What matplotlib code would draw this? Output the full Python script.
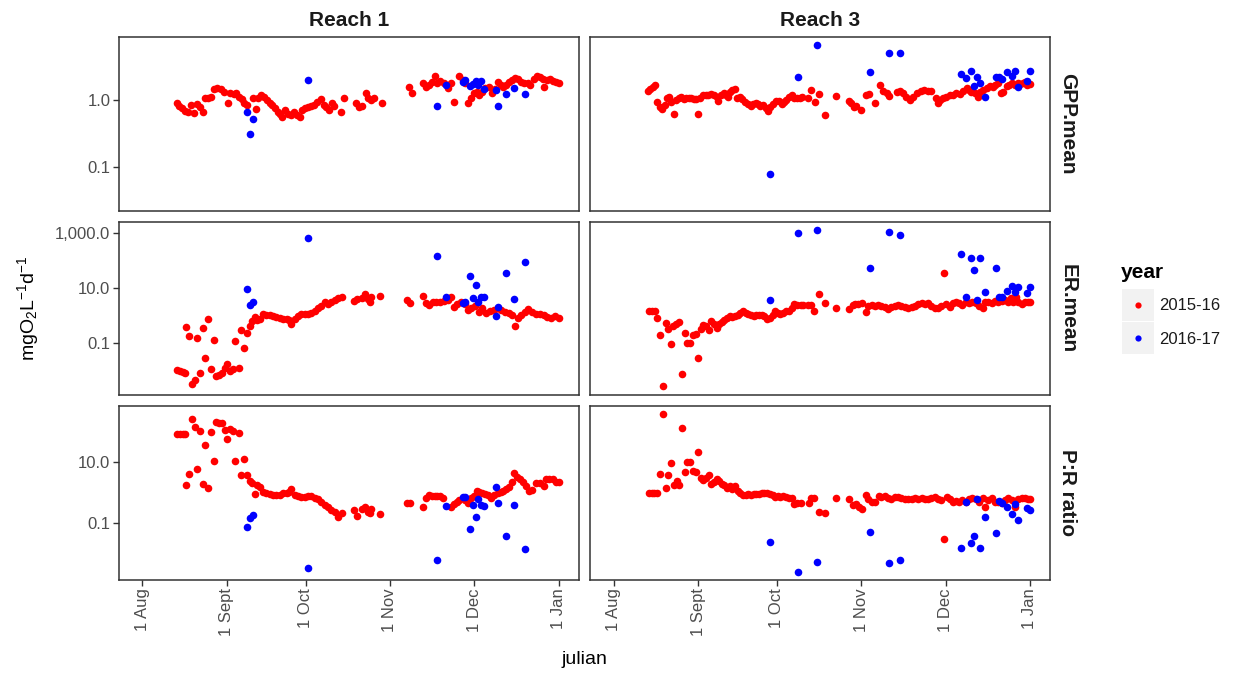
import matplotlib
matplotlib.use("Agg")
import matplotlib.pyplot as plt
from matplotlib.ticker import FixedLocator, NullLocator
from matplotlib.patches import Rectangle

plt.rcParams['font.family'] = ['Liberation Sans', 'DejaVu Sans']
plt.rcParams['mathtext.fontset'] = 'custom'
plt.rcParams['mathtext.rm'] = 'Liberation Sans'
plt.rcParams['mathtext.default'] = 'regular'

# ---------------- data (julian day, value) ----------------
# Reach 1, 2015-16
r1_gpp_day_15 = [225.8, 226.5, 227.5, 228.5, 229.6, 231.0, 232.1, 233.1, 234.1, 235.2,
                 236.2, 237.3, 238.3, 239.4, 240.6, 242.0, 243.1, 244.3, 245.1, 246.5,
                 247.6, 248.6, 249.6, 250.4, 251.4, 253.5, 254.6, 255.6, 256.7, 257.7,
                 258.9, 259.9, 260.8, 261.7, 262.7, 263.7, 264.5, 265.5, 266.5, 267.6,
                 268.7, 269.9, 270.9, 271.8, 272.8, 274.0, 274.9, 276.0, 277.2, 278.6,
                 279.6, 280.6, 281.7, 282.6, 283.4, 286.0, 287.1, 291.6, 292.7, 293.7,
                 295.1, 295.8, 296.9, 298.3, 301.0, 311.0, 312.2, 316.2, 317.2, 318.3,
                 319.4, 320.4, 321.4, 322.5, 323.9, 325.3, 326.4, 327.6, 329.5, 330.7,
                 331.7, 332.6, 333.7, 334.9, 335.9, 336.9, 338.0, 339.1, 340.5, 341.7,
                 342.5, 343.6, 344.7, 345.7, 346.7, 347.8, 348.9, 349.9, 350.9, 352.1,
                 353.2, 354.6, 355.6, 357.0, 358.0, 359.1, 360.2, 360.8, 361.6, 363.0,
                 364.0, 365.0, 366.1]
r1_gpp_15 = [0.91, 0.81, 0.75, 0.69, 0.65, 0.84, 0.63, 0.87, 0.78, 0.67,
             1.06, 1.06, 1.12, 1.45, 1.5, 1.45, 1.33, 0.91, 1.26, 1.23,
             1.26, 1.12, 1.02, 0.91, 0.84, 1.06, 0.73, 1.06, 1.19, 1.12,
             1.0, 0.91, 0.84, 0.75, 0.67, 0.62, 0.55, 0.71, 0.62, 0.6,
             0.67, 0.6, 0.56, 0.71, 0.75, 0.78, 0.81, 0.84, 0.94, 1.02,
             0.84, 0.78, 0.71, 0.89, 0.81, 0.65, 1.06, 0.89, 0.78, 0.81,
             1.26, 1.06, 1.0, 1.06, 0.89, 1.55, 1.26, 1.78, 1.55, 1.68,
             1.88, 2.3, 1.82, 1.95, 1.78, 1.5, 1.78, 0.94, 2.3, 2.0,
             1.78, 0.89, 1.06, 1.26, 1.33, 1.19, 1.33, 1.5, 1.55, 1.29,
             1.45, 1.88, 1.68, 1.55, 1.68, 1.88, 2.0, 2.1, 2.05, 1.88,
             1.82, 1.78, 1.68, 2.05, 2.25, 2.2, 2.05, 1.55, 2.0, 2.05,
             1.95, 1.88, 1.82]

r1_er_day_15 = [225.8, 226.8, 227.9, 228.5, 229.2, 230.1, 231.2, 232.2, 233.2, 234.3,
                235.2, 236.1, 237.1, 238.2, 239.2, 240.2, 241.2, 242.2, 243.2, 244.2,
                245.2, 246.2, 247.2, 248.4, 249.1, 250.2, 251.3, 252.4, 253.3, 254.3,
                255.3, 256.2, 257.5, 258.6, 259.8, 261.0, 262.3, 263.5, 264.7, 266.0,
                266.9, 267.8, 269.0, 270.2, 271.4, 272.7, 273.9, 275.1, 276.4, 277.6,
                278.8, 280.0, 281.3, 282.5, 283.7, 285.0, 286.2, 290.7, 291.9, 293.8,
                295.0, 296.0, 296.8, 297.2, 300.5, 310.3, 311.4, 316.2, 317.2, 318.3,
                319.7, 321.1, 322.5, 323.9, 325.3, 326.4, 327.6, 328.8, 330.2, 331.7,
                332.6, 333.7, 335.2, 336.6, 338.0, 339.4, 340.8, 342.2, 343.6, 345.0,
                346.4, 347.8, 349.0, 349.9, 350.9, 352.1, 353.5, 354.9, 356.3, 357.7,
                359.1, 360.5, 361.9, 363.3, 364.7, 366.1]
r1_er_15 = [0.0103, 0.0093, 0.0085, 0.008, 0.36, 0.17, 0.003, 0.0042, 0.15, 0.0078,
            0.35, 0.028, 0.76, 0.011, 0.13, 0.0062, 0.0068, 0.008, 0.012, 0.016,
            0.0093, 0.011, 0.115, 0.012, 0.28, 0.066, 0.23, 0.41, 0.6, 0.87,
            0.66, 0.76, 1.12, 1.07, 1.0, 0.95, 0.9, 0.83, 0.76, 0.76,
            0.7, 0.5, 0.76, 0.92, 1.1, 1.1, 1.1, 1.26, 1.5, 1.86,
            2.2, 3.1, 2.7, 3.2, 3.5, 4.3, 4.8, 3.4, 4.1, 4.4,
            5.9, 4.1, 3.1, 4.7, 4.9, 3.6, 2.9, 5.2, 2.8, 2.4,
            3.0, 3.0, 3.2, 3.3, 3.5, 4.5, 2.0, 2.7, 3.0, 2.5,
            1.57, 1.8, 2.25, 1.35, 1.8, 1.17, 1.45, 1.57, 1.9, 1.57,
            1.35, 1.25, 1.0, 0.41, 0.78, 1.0, 1.35, 1.65, 1.35, 1.15,
            1.1, 1.0, 0.87, 0.78, 0.91, 0.83]

r1_pr_day_15 = [225.9, 226.8, 227.9, 228.5, 229.2, 230.1, 231.2, 232.2, 233.2, 234.3,
                235.2, 236.1, 237.1, 238.2, 239.2, 240.2, 241.2, 242.2, 243.2, 244.2,
                245.2, 246.2, 247.2, 248.4, 249.1, 250.2, 251.3, 252.4, 253.3, 254.3,
                255.3, 256.2, 257.5, 258.6, 259.8, 261.0, 262.3, 263.5, 264.7, 266.0,
                266.9, 267.8, 269.0, 270.2, 271.4, 272.7, 273.9, 275.1, 276.4, 277.6,
                278.8, 280.0, 281.3, 282.5, 283.7, 285.0, 286.2, 290.7, 291.9, 293.8,
                295.0, 296.0, 296.8, 297.2, 300.5, 310.3, 311.4, 316.2, 317.2, 318.3,
                319.4, 320.4, 321.4, 322.5, 323.6, 326.4, 327.6, 328.8, 329.5, 331.7,
                332.6, 333.7, 334.9, 336.0, 336.9, 338.0, 339.1, 340.1, 341.2, 342.2,
                343.6, 344.7, 345.7, 346.7, 347.8, 348.7, 349.7, 350.7, 351.8, 352.9,
                354.2, 355.3, 356.3, 357.7, 359.1, 360.5, 361.2, 362.6, 364.0, 365.0,
                366.1]
r1_pr_15 = [87, 87, 87, 87, 1.78, 4.0, 265, 148, 5.9, 107,
            1.96, 38, 1.37, 103, 10.7, 215, 205, 195, 117, 58,
            130, 107, 10.7, 91, 3.8, 13, 3.7, 2.4, 2.1, 0.9,
            1.72, 1.55, 1.04, 0.94, 0.9, 0.81, 0.81, 0.85, 0.94, 0.94,
            1.04, 1.26, 0.85, 0.77, 0.73, 0.73, 0.77, 0.77, 0.68, 0.6,
            0.49, 0.4, 0.32, 0.26, 0.22, 0.155, 0.215, 0.26, 0.166, 0.28,
            0.32, 0.23, 0.215, 0.28, 0.19, 0.44, 0.46, 0.34, 0.64, 0.83,
            0.77, 0.74, 0.77, 0.74, 0.64, 0.34, 0.42, 0.5, 0.56, 0.56,
            0.44, 0.64, 0.77, 1.15, 1.07, 0.95, 0.9, 0.81, 0.64, 0.83,
            0.95, 1.07, 1.15, 1.27, 1.48, 2.3, 4.5, 3.2, 2.8, 2.2,
            1.65, 1.15, 1.2, 2.0, 2.1, 1.65, 2.75, 2.85, 2.85, 2.3,
            2.3]

# Reach 1, 2016-17
r1_day_16 = [251.3, 252.4, 253.5, 273.8, 321.4, 324.6, 330.8, 331.7, 333.6, 334.5,
             335.6, 336.5, 337.4, 338.6, 342.9, 343.8, 346.7, 349.7, 353.8]
r1_gpp_16 = [0.65, 0.31, 0.52, 2.0, 0.82, 1.7, 1.84, 2.0, 1.6, 1.75,
             1.95, 1.7, 1.95, 1.46, 1.4, 0.81, 1.23, 1.5, 1.23]
r1_er_16 = [8.9, 2.3, 3.0, 670, 145, 4.6, 2.8, 3.1, 27, 4.3,
            13, 3.1, 4.6, 4.6, 0.93, 1.95, 35, 4.1, 88]
r1_pr_16 = [0.072, 0.138, 0.18, 0.0031, 0.0059, 0.35, 0.69, 0.69, 0.06, 0.39,
            0.15, 0.63, 0.39, 0.35, 1.48, 0.46, 0.037, 0.39, 0.014]

# Reach 3, 2015-16
r3_gpp_day_15 = [225.6, 226.5, 227.5, 228.2, 228.9, 229.9, 230.9, 231.8, 232.6, 233.4,
                 234.2, 235.1, 236.0, 237.0, 237.9, 238.7, 239.7, 240.7, 241.6, 242.4,
                 243.4, 244.1, 244.9, 245.9, 246.8, 247.8, 248.9, 249.8, 250.8, 251.5,
                 252.6, 253.5, 254.4, 255.2, 255.9, 256.6, 257.5, 258.4, 259.3, 260.3,
                 261.3, 262.3, 263.3, 264.2, 265.2, 266.2, 266.9, 267.9, 268.9, 269.8,
                 270.6, 271.6, 272.6, 273.6, 274.7, 275.5, 276.5, 277.5, 278.5, 279.4,
                 280.4, 281.4, 282.4, 284.5, 285.7, 286.9, 288.5, 290.8, 294.6, 299.5,
                 300.4, 301.3, 302.2, 303.8, 305.7, 306.9, 309.0, 310.8, 312.1, 313.3,
                 314.3, 317.0, 318.2, 319.4, 320.6, 321.9, 323.1, 324.6, 325.8, 327.0,
                 328.6, 329.8, 331.4, 332.3, 333.1, 334.1, 335.3, 336.6, 337.8, 339.0,
                 340.3, 341.5, 342.7, 343.7, 344.5, 345.8, 347.0, 347.6, 348.8, 350.1,
                 351.3, 352.3, 353.2, 354.4, 355.2, 356.2, 357.4, 358.4, 359.3, 360.5,
                 361.5, 362.3, 363.3, 364.3, 365.1, 366.0]
r3_gpp_15 = [1.38, 1.48, 1.58, 1.66, 0.94, 0.79, 0.73, 0.84, 1.06, 1.12,
             0.94, 0.62, 1.0, 1.06, 1.12, 1.02, 1.08, 1.06, 1.08, 1.02,
             1.02, 0.62, 1.06, 1.19, 1.19, 1.19, 1.23, 1.19, 1.12, 0.98,
             1.19, 1.29, 1.19, 1.12, 1.33, 1.41, 1.45, 1.06, 1.12, 1.02,
             0.94, 0.87, 0.81, 0.87, 0.89, 0.87, 0.81, 0.84, 0.75, 0.69,
             0.78, 0.87, 0.98, 0.98, 0.87, 0.94, 1.0, 1.12, 1.19, 1.06,
             1.06, 1.08, 1.12, 1.06, 1.41, 0.94, 1.22, 0.6, 1.15, 0.98,
             0.89, 0.78, 0.81, 0.72, 1.19, 1.23, 0.91, 1.68, 1.38, 1.26,
             1.15, 1.33, 1.38, 1.26, 1.12, 1.0, 1.12, 1.26, 1.38, 1.41,
             1.38, 1.38, 1.06, 0.91, 1.0, 1.06, 1.12, 1.19, 1.19, 1.26,
             1.23, 1.38, 1.5, 1.41, 1.33, 1.26, 1.12, 1.33, 1.41, 1.5,
             1.62, 1.55, 1.68, 1.78, 1.29, 1.33, 1.62, 1.68, 1.78, 1.68,
             1.78, 1.73, 1.78, 1.88, 1.68, 1.73]

r3_er_day_15 = [226.0, 227.0, 228.1, 229.1, 230.2, 231.1, 232.1, 233.1, 234.0, 234.8,
                235.8, 237.0, 238.1, 239.1, 240.0, 241.0, 242.2, 243.2, 244.0, 245.0,
                245.9, 246.8, 248.0, 248.9, 249.8, 250.8, 251.7, 252.7, 253.7, 254.7,
                255.7, 256.6, 257.6, 258.6, 259.6, 260.6, 261.5, 262.5, 263.5, 264.5,
                265.5, 266.5, 267.4, 268.4, 269.4, 270.4, 271.4, 272.3, 273.3, 274.3,
                275.3, 276.5, 277.5, 278.5, 279.4, 280.4, 281.7, 282.6, 284.6, 285.6,
                286.6, 288.6, 290.8, 294.9, 299.6, 300.8, 301.6, 302.9, 304.1, 305.7,
                306.5, 307.8, 309.0, 310.2, 311.4, 312.7, 313.9, 315.1, 316.3, 317.6,
                318.8, 320.0, 321.2, 322.5, 323.7, 324.9, 326.2, 327.4, 328.6, 329.8,
                331.1, 332.3, 333.5, 334.5, 335.3, 336.6, 337.6, 338.8, 340.0, 341.2,
                342.5, 343.7, 344.9, 346.1, 347.4, 348.6, 349.4, 350.7, 351.9, 353.1,
                354.3, 355.6, 356.8, 358.0, 358.9, 359.9, 360.9, 361.8, 363.0, 364.2,
                365.4, 366.2]
r3_er_15 = [1.5, 1.5, 1.5, 0.79, 0.195, 0.0025, 0.53, 0.31, 0.089, 0.41,
            0.5, 0.57, 0.0074, 0.22, 0.1, 0.1, 0.195, 0.2, 0.027, 0.32,
            0.46, 0.41, 0.28, 0.63, 0.5, 0.35, 0.5, 0.57, 0.66, 0.79,
            0.93, 0.87, 0.93, 1.05, 1.26, 1.4, 1.26, 1.1, 1.0, 0.93,
            1.0, 1.05, 1.0, 0.93, 0.76, 0.79, 1.05, 1.4, 1.26, 1.16,
            1.26, 1.4, 1.5, 1.86, 2.7, 2.45, 2.3, 2.3, 2.45, 2.3,
            1.5, 5.8, 2.9, 1.86, 1.66, 2.4, 2.5, 2.5, 2.75, 1.35,
            2.24, 2.4, 2.24, 2.4, 2.24, 2.1, 1.7, 2.1, 2.24, 2.4,
            2.24, 2.1, 1.9, 2.0, 2.24, 2.5, 2.75, 2.5, 2.75, 2.24,
            1.8, 1.9, 2.24, 35, 2.5, 2.1, 2.75, 3.0, 2.75, 2.4,
            3.0, 2.75, 3.0, 2.75, 2.24, 1.9, 3.2, 3.0, 2.75, 3.3,
            3.0, 3.3, 3.6, 3.0, 4.2, 3.0, 4.5, 3.0, 2.5, 3.0,
            3.0, 3.0]

r3_pr_day_15 = [226.0, 227.0, 228.0, 228.9, 230.2, 231.1, 232.1, 233.1, 234.0, 235.2,
                236.1, 237.1, 238.1, 239.1, 240.0, 241.0, 242.2, 243.2, 244.0, 245.0,
                245.9, 246.8, 248.0, 248.9, 249.8, 250.8, 251.7, 252.7, 253.7, 254.7,
                255.7, 256.6, 257.6, 258.6, 259.6, 260.6, 261.5, 262.5, 263.5, 264.5,
                265.5, 266.5, 267.4, 268.4, 269.4, 270.4, 271.4, 272.3, 273.3, 274.3,
                275.3, 276.5, 277.5, 278.5, 279.4, 280.4, 281.7, 284.8, 285.6, 286.6,
                288.6, 290.8, 294.9, 299.6, 300.8, 302.0, 303.2, 304.1, 305.7, 306.5,
                307.8, 309.0, 310.6, 311.4, 312.7, 313.9, 315.1, 316.3, 317.6, 318.8,
                320.0, 321.2, 322.5, 323.7, 324.9, 326.2, 327.4, 328.6, 329.8, 331.1,
                332.3, 333.5, 334.5, 335.6, 336.6, 337.6, 338.8, 340.0, 341.2, 342.5,
                343.7, 344.9, 346.1, 347.4, 348.6, 349.4, 350.7, 351.9, 353.1, 354.3,
                355.6, 356.8, 358.0, 359.3, 360.5, 361.7, 363.0, 364.2, 365.4, 366.2]
r3_pr_15 = [0.93, 0.95, 0.97, 1.0, 4.0, 400, 1.44, 3.7, 9.3, 1.72,
            2.4, 1.72, 140, 4.8, 10, 10, 5.1, 4.8, 22, 3.1,
            2.6, 3.1, 3.7, 1.86, 2.24, 2.9, 2.4, 1.86, 1.72, 1.44,
            1.66, 1.34, 1.66, 1.12, 0.93, 0.8, 0.8, 0.86, 0.8, 0.86,
            0.86, 0.86, 0.93, 0.97, 0.93, 0.86, 0.8, 0.73, 0.77, 0.73,
            0.77, 0.73, 0.68, 0.64, 0.41, 0.46, 0.46, 0.46, 0.64, 0.66,
            0.23, 0.205, 0.64, 0.59, 0.39, 0.42, 0.32, 0.28, 0.83, 0.59,
            0.5, 0.47, 0.77, 0.7, 0.77, 0.64, 0.59, 0.7, 0.73, 0.64,
            0.59, 0.59, 0.59, 0.64, 0.59, 0.64, 0.59, 0.59, 0.64, 0.7,
            0.59, 0.56, 0.028, 0.7, 0.59, 0.5, 0.54, 0.5, 0.56, 0.5,
            0.59, 0.64, 0.59, 0.5, 0.64, 0.34, 0.56, 0.64, 0.5, 0.47,
            0.44, 0.56, 0.64, 0.56, 0.34, 0.59, 0.64, 0.64, 0.59, 0.59]

# Reach 3, 2016-17
r3_day_16 = [270.6, 280.8, 287.8, 307.2, 314.3, 318.2, 340.5, 342.5, 344.5, 345.4,
             346.4, 347.6, 349.6, 353.5, 354.5, 355.6, 357.7, 359.6, 360.6, 361.8,
             364.8, 366.0]
r3_gpp_16 = [0.078, 2.24, 6.7, 2.66, 5.0, 5.0, 2.45, 2.1, 2.75, 1.62,
             2.19, 1.78, 1.12, 2.24, 2.24, 2.04, 2.66, 2.29, 2.75, 1.55,
             1.95, 2.75]
r3_er_16 = [3.5, 1050, 1360, 53, 1150, 870, 170, 4.5, 129, 46,
            3.6, 123, 7.4, 53, 4.5, 4.8, 7.8, 12.3, 6.9, 11.2,
            6.3, 11.2]
r3_pr_16 = [0.023, 0.0023, 0.0051, 0.05, 0.0047, 0.0057, 0.015, 0.48, 0.022, 0.036,
            0.59, 0.015, 0.16, 0.045, 0.54, 0.44, 0.34, 0.2, 0.42, 0.12,
            0.3, 0.26]

reaches = ['Reach 1', 'Reach 3']
metrics = ['GPP.mean', 'ER.mean', 'P:R ratio']
years = ['2015-16', '2016-17']
year_colors = ['#FF0000', '#0000FF']

month_breaks = [213, 244, 273, 304, 335, 366]
month_labels = ['1 Aug', '1 Sept', '1 Oct', '1 Nov', '1 Dec', '1 Jan']

y_breaks = [[0.1, 1.0], [0.1, 10.0, 1000.0], [0.1, 10.0]]
y_labels = [['0.1', '1.0'], ['0.1', '10.0', '1,000.0'], ['0.1', '10.0']]
y_limits = [(0.0217, 8.7), (0.00122, 2520), (0.00127, 731)]

# panel[row][col] -> (days 15-16, values 15-16, days 16-17, values 16-17)
panels = [
    [(r1_gpp_day_15, r1_gpp_15, r1_day_16, r1_gpp_16),
     (r3_gpp_day_15, r3_gpp_15, r3_day_16, r3_gpp_16)],
    [(r1_er_day_15, r1_er_15, r1_day_16, r1_er_16),
     (r3_er_day_15, r3_er_15, r3_day_16, r3_er_16)],
    [(r1_pr_day_15, r1_pr_15, r1_day_16, r1_pr_16),
     (r3_pr_day_15, r3_pr_15, r3_day_16, r3_pr_16)],
]

# ---------------- layout ----------------
W, H = 1238, 675
fig = plt.figure(figsize=(W / 100, H / 100), dpi=100)

col_left = [118.7, 590.0]
col_width = 460.3
row_top = [37.3, 222.3, 406.0]
row_height = [173.7, 172.7, 174.0]

dark = '#333333'
grey_text = '#4D4D4D'
pt_size = 30

for r in range(3):
    for c in range(2):
        ax = fig.add_axes([col_left[c] / W, 1 - (row_top[r] + row_height[r]) / H,
                           col_width / W, row_height[r] / H])
        d15, v15, d16, v16 = panels[r][c]
        ax.scatter(d15, v15, s=pt_size, color=year_colors[0], linewidths=0, zorder=2)
        ax.scatter(d16, v16, s=pt_size, color=year_colors[1], linewidths=0, zorder=3)

        ax.set_yscale('log')
        ax.set_xlim(204.3, 373.5)
        ax.set_ylim(*y_limits[r])
        ax.yaxis.set_major_locator(FixedLocator(y_breaks[r]))
        ax.yaxis.set_minor_locator(NullLocator())
        ax.set_xticks(month_breaks)

        for sp in ax.spines.values():
            sp.set_color(dark)
            sp.set_linewidth(1.1)

        ax.tick_params(axis='both', length=4, width=1, color=dark,
                       labelcolor=grey_text, labelsize=12, pad=2)

        if c == 0:
            ax.set_yticklabels(y_labels[r])
        else:
            ax.tick_params(axis='y', length=0, labelleft=False)

        if r == 2:
            ax.set_xticklabels(month_labels, rotation=90)
        else:
            ax.tick_params(axis='x', length=0, labelbottom=False)

        # column strips
        if r == 0:
            fig.text((col_left[c] + col_width / 2) / W, 1 - 20 / H, reaches[c],
                     ha='center', va='center', fontsize=15, fontweight='bold',
                     color='#1A1A1A')
        # row strips
        if c == 1:
            fig.text(1068 / W, 1 - (row_top[r] + row_height[r] / 2) / H, metrics[r],
                     ha='center', va='center', rotation=-90, fontsize=15,
                     fontweight='bold', color='#1A1A1A')

# axis titles
fig.text(28 / W, 1 - 308 / H, r'mgO$_2$L$^{-1}$d$^{-1}$', rotation=90,
         ha='center', va='center', fontsize=14, color='black')
fig.text(584 / W, 1 - 660 / H, 'julian', ha='center', va='center',
         fontsize=14, color='black')

# legend
leg = fig.add_axes([0, 0, 1, 1], zorder=5)
leg.set_xlim(0, W)
leg.set_ylim(H, 0)
leg.axis('off')
leg.text(1121, 273, 'year', ha='left', va='center', fontsize=15,
         fontweight='bold', color='black')
for i, (name, col) in enumerate(zip(years, year_colors)):
    top = 289 + i * 33
    leg.add_patch(Rectangle((1122, top), 32, 32, facecolor='#F2F2F2',
                            edgecolor='none'))
    leg.scatter([1138], [top + 16], s=20, color=col, linewidths=0)
    leg.text(1159, top + 17, name, ha='left', va='center', fontsize=12,
             color='#1A1A1A')

fig.savefig('out.png', dpi=100)
